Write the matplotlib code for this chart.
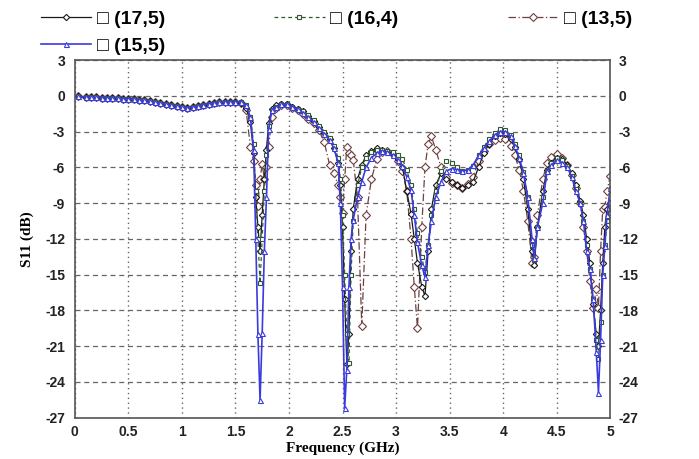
import matplotlib
matplotlib.use("Agg")
import matplotlib.pyplot as plt

# ---- data ----
freq_low = [0.03, 0.10, 0.15, 0.20, 0.25, 0.30, 0.35, 0.40, 0.45, 0.50, 0.55, 0.60,
            0.65, 0.70, 0.75, 0.80, 0.85, 0.90, 0.95, 1.00, 1.05, 1.10, 1.15, 1.20,
            1.25, 1.30, 1.35, 1.40, 1.45]
s11_low = [-0.05, -0.08, -0.10, -0.12, -0.15, -0.17, -0.18, -0.20, -0.22, -0.25, -0.28, -0.32,
           -0.38, -0.45, -0.55, -0.62, -0.70, -0.78, -0.85, -0.95, -1.00, -0.95, -0.85, -0.75,
           -0.65, -0.58, -0.52, -0.50, -0.50]

freq_hi = [1.50, 1.55, 1.60, 1.64, 1.67, 1.69, 1.71, 1.73, 1.75, 1.77,
           1.79, 1.81, 1.84, 1.88, 1.93, 1.98, 2.03, 2.08, 2.13, 2.18,
           2.23, 2.28, 2.33, 2.38, 2.42, 2.46, 2.48, 2.50, 2.52, 2.54,
           2.56, 2.58, 2.60, 2.64, 2.68, 2.72, 2.77, 2.82, 2.87, 2.92,
           2.97, 3.02, 3.06, 3.10, 3.14, 3.17, 3.20, 3.24, 3.27, 3.30,
           3.33, 3.37, 3.42, 3.47, 3.52, 3.57, 3.62, 3.67, 3.72, 3.77,
           3.82, 3.87, 3.92, 3.97, 4.02, 4.07, 4.11, 4.15, 4.19, 4.23,
           4.27, 4.29, 4.32, 4.37, 4.41, 4.45, 4.50, 4.55, 4.60, 4.64,
           4.68, 4.72, 4.75, 4.78, 4.81, 4.84, 4.87, 4.89, 4.91, 4.93,
           4.95, 4.97, 5.00]

s11_17_5 = [-0.5, -0.6, -1.0, -2.2, -4.8, -8.5, -11, -13, -10, -7,
            -4.5, -2.3, -1.1, -0.8, -0.7, -0.7, -0.9, -1.1, -1.3, -1.7,
            -2.1, -2.6, -3.1, -3.6, -4.4, -5.6, -7.5, -11, -17, -22.5,
            -20, -13, -9.5, -7, -5.8, -5.0, -4.6, -4.4, -4.5, -4.7,
            -4.9, -5.3, -6.0, -8, -9.9, -12, -14, -16, -16.8, -13,
            -9.5, -7.5, -6.5, -7.0, -7.2, -7.5, -7.7, -7.5, -7.2, -6.0,
            -4.8, -4.0, -3.4, -3.1, -3.2, -3.6, -4.3, -5.3, -7, -9.5,
            -13, -14.2, -11, -8, -6.2, -5.6, -5.2, -5.3, -5.8, -6.5,
            -7.5, -8.8, -10, -12, -14, -17.5, -20, -21, -18, -14,
            -11, -9.5, -9.0]

s11_16_4 = [-0.5, -0.5, -0.8, -1.8, -4.0, -8, -12, -15.7, -12, -8,
            -5, -2.5, -1.2, -0.9, -0.7, -0.7, -0.9, -1.1, -1.3, -1.6,
            -2.0, -2.5, -3.0, -3.5, -4.2, -5.2, -7, -10, -15, -20,
            -22.4, -15, -10.5, -7.5, -6.0, -5.2, -4.7, -4.5, -4.5, -4.6,
            -4.7, -5.0, -5.3, -6.2, -7.5, -9.5, -11.5, -13.5, -14.8, -12.5,
            -10, -8.0, -6.3, -5.5, -5.6, -6.0, -6.3, -6.2, -5.9, -5.0,
            -4.3, -3.6, -3.1, -2.8, -2.9, -3.3, -4.0, -5.0, -6.4, -8.5,
            -12.5, -13.8, -11, -8.5, -6.3, -5.6, -5.2, -5.4, -5.9, -6.7,
            -7.8, -9.0, -10.5, -12.5, -14.5, -17, -20.5, -22.1, -19, -15,
            -12.5, -10.5, -9.8]

s11_13_5 = [-0.5, -0.6, -1.2, -4.3, -5.5, -7.5, -9.2, -7, -5.7, -7,
            -6, -4.3, -1.8, -1.0, -0.8, -0.8, -1.0, -1.2, -1.5, -1.9,
            -2.3, -2.9, -3.9, -5.8, -6.5, -7.5, -8.5, -9.8, -7, -4.3,
            -4.8, -5.0, -5.4, -8.5, -19.3, -10, -7.0, -5.3, -4.7, -4.6,
            -4.9, -5.5, -6.3, -8, -12, -16, -19.5, -11, -6, -4.0,
            -3.4, -4.5, -6.0, -6.8, -7.3, -7.5, -7.7, -7.4, -6.8, -5.5,
            -4.6, -4.0, -3.7, -3.5, -3.6, -4.2, -5.0, -6.2, -8, -10.5,
            -14, -13.5, -10, -7, -5.6, -5.1, -4.9, -5.2, -5.8, -6.6,
            -7.7, -9, -11, -13, -15.5, -17.8, -16.2, -17.8, -13, -9.5,
            -9.3, -8, -6.7]

s11_15_5 = [-0.5, -0.5, -0.8, -1.8, -4.5, -12, -20, -25.5, -19.9, -13,
            -8.5, -2.8, -1.2, -0.9, -0.7, -0.7, -0.9, -1.1, -1.4, -1.8,
            -2.2, -2.7, -3.2, -3.7, -4.4, -5.6, -9, -16, -26.2, -23,
            -16, -12, -10.4, -8.5, -7.2, -6.0, -5.2, -4.8, -4.6, -4.7,
            -5.0, -5.4, -5.9, -6.8, -7.9, -10, -12.3, -14.2, -15.2, -12.5,
            -10.5, -8.5, -7.2, -6.3, -6.1, -6.2, -6.3, -6.2, -5.8, -5.0,
            -4.4, -3.8, -3.3, -3.0, -3.0, -3.4, -4.2, -5.2, -6.5, -8.5,
            -12, -13.6, -11, -9.0, -6.3, -5.8, -5.4, -5.6, -6.0, -6.8,
            -8.0, -9.0, -10.5, -13, -14.5, -17, -21.5, -24.9, -20.5, -15,
            -12.6, -10, -7.7]

labels = ["(17,5)", "(16,4)", "(13,5)", "(15,5)"]
x_ticks = [0, 0.5, 1, 1.5, 2, 2.5, 3, 3.5, 4, 4.5, 5]
y_ticks = [3, 0, -3, -6, -9, -12, -15, -18, -21, -24, -27]

# ---- figure ----
fig = plt.figure(figsize=(6.99, 4.59), dpi=100)
ax = fig.add_axes([0.107, 0.090, 0.766, 0.779])

styles = {
    "(17,5)": dict(color="#1a1a1a", ls="-", marker="D", ms=3.2, lw=0.9),
    "(16,4)": dict(color="#2f5a2f", ls=(0, (3, 2.5)), marker="s", ms=3.2, lw=0.9),
    "(13,5)": dict(color="#6e4040", ls=(0, (6, 2, 1, 2)), marker="D", ms=3.6, lw=0.9),
    "(15,5)": dict(color="#3a3ae0", ls="-", marker="^", ms=3.6, lw=1.2),
}
series = {"(17,5)": s11_17_5, "(16,4)": s11_16_4, "(13,5)": s11_13_5, "(15,5)": s11_15_5}

handles = {}
for name in ["(13,5)", "(17,5)", "(16,4)", "(15,5)"]:
    st = styles[name]
    h, = ax.plot(freq_low + freq_hi, s11_low + series[name], color=st["color"],
                 linestyle=st["ls"], lw=st["lw"], marker=st["marker"], ms=st["ms"],
                 mfc="white", mec=st["color"], mew=0.8)
    handles[name] = h

tick_font = dict(fontsize=10, fontweight="bold", family="Liberation Sans", color="#222222")
ax.set_xlim(0, 5)
ax.set_ylim(-27, 3)
ax.set_xticks(x_ticks)
ax.set_yticks(y_ticks)
ax.set_xticklabels([("%g" % t) for t in x_ticks], **tick_font)
ax.set_yticklabels([("%g" % t) for t in y_ticks], **tick_font)
ax.tick_params(axis="x", length=0, pad=5)
ax.tick_params(axis="y", length=0, pad=7)

ax.yaxis.grid(True, color="#666666", ls=(0, (4, 3)), lw=0.9)
ax.xaxis.grid(True, color="#666666", ls=(0, (1, 2.5)), lw=1.0)
ax.set_axisbelow(True)
for sp in ax.spines.values():
    sp.set_color("#555555")
    sp.set_linewidth(1.2)

ax2 = ax.twinx()
ax2.set_ylim(-27, 3)
ax2.set_yticks(y_ticks)
ax2.set_yticklabels([("%g" % t) for t in y_ticks], **tick_font)
ax2.tick_params(length=0, pad=6)
for sp in ax2.spines.values():
    sp.set_visible(False)

ax.set_xlabel("Frequency (GHz)", fontsize=11, fontweight="bold",
              family="Liberation Serif", labelpad=2)
ax.set_ylabel("S11 (dB)", fontsize=11, fontweight="bold",
              family="Liberation Serif", labelpad=8)

order = ["(17,5)", "(15,5)", "(16,4)", "(13,5)"]
leg = fig.legend([handles[n] for n in order], ["\u25A1 " + n for n in order],
                 loc="upper left", bbox_to_anchor=(0.058, 0.978), ncol=3,
                 frameon=False, handlelength=2.6, columnspacing=5.6,
                 labelspacing=0.5, handletextpad=0.3, borderpad=0, borderaxespad=0,
                 prop={"family": ["Liberation Sans", "DejaVu Sans"], "weight": "bold", "size": 14})

fig.savefig("out.png", dpi=100)
